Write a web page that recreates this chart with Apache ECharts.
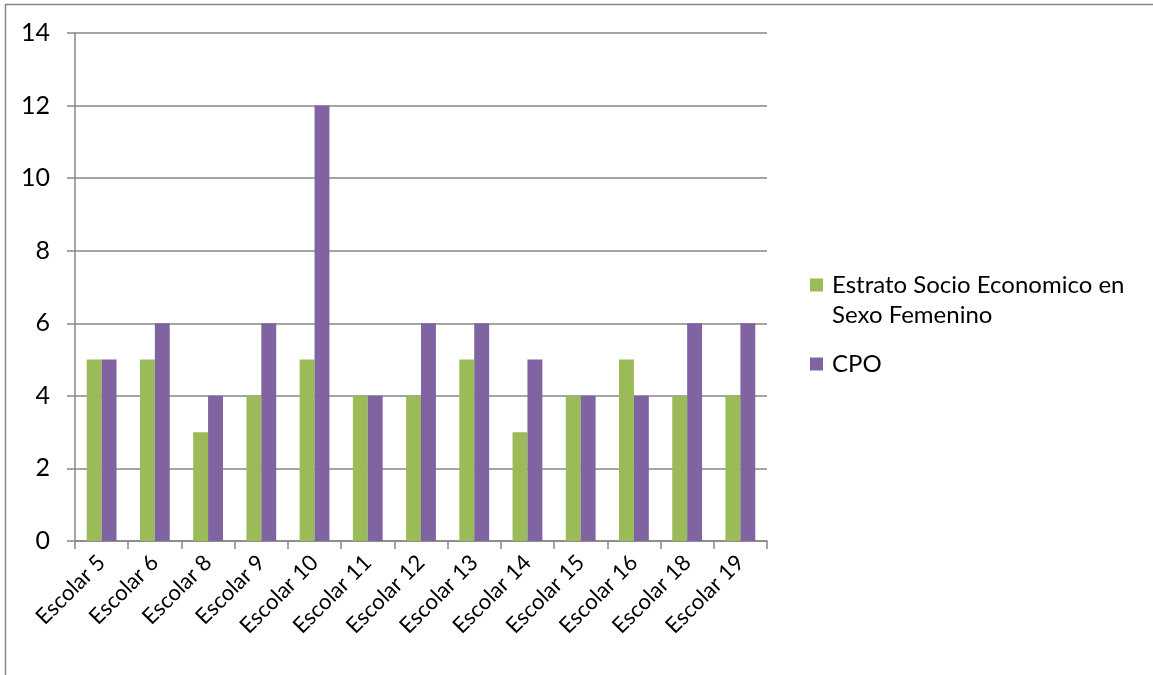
<!DOCTYPE html>
<html>
<head>
<meta charset="utf-8">
<script src="https://cdn.jsdelivr.net/npm/echarts@6/dist/echarts.min.js"></script>
<style>
  html, body { margin: 0; padding: 0; background: #fff; }
  #chart { width: 1153px; height: 675px; }
</style>
</head>
<body>
<div id="chart"></div>
<script>
// School groups on the category axis
const categories = ['Escolar 5', 'Escolar 6', 'Escolar 8', 'Escolar 9', 'Escolar 10', 'Escolar 11',
  'Escolar 12', 'Escolar 13', 'Escolar 14', 'Escolar 15', 'Escolar 16', 'Escolar 18', 'Escolar 19'];

// Series values
const estratoName = 'Estrato Socio Economico en Sexo Femenino';
const estratoValues = [5, 5, 3, 4, 5, 4, 4, 5, 3, 4, 5, 4, 4];
const cpoName = 'CPO';
const cpoValues = [5, 6, 4, 6, 12, 4, 6, 6, 5, 4, 4, 6, 6];

// Value axis range
const yMin = 0, yMax = 14, yStep = 2;

const FONT = 'Lato, "Open Sans", sans-serif';
const GRAY = '#878787';
const LH = 30;

const chart = echarts.init(document.getElementById('chart'), null, { renderer: 'canvas' });

chart.setOption({
  backgroundColor: '#ffffff',
  animation: false,
  textStyle: { fontFamily: FONT },
  grid: { left: 75, top: 33, right: 386, bottom: 134, containLabel: false },
  legend: [
    {
      data: [estratoName],
      orient: 'vertical',
      left: 810,
      top: 240,
      padding: 0,
      icon: 'rect',
      itemWidth: 13,
      itemHeight: 13,
      // leading blank line keeps the first text line level with the swatch
      formatter: () => '\nEstrato Socio Economico en\nSexo Femenino',
      textStyle: { fontFamily: FONT, fontSize: 24, color: '#000', lineHeight: LH, padding: [0, 0, 0, 4] }
    },
    {
      data: [cpoName],
      orient: 'vertical',
      left: 810,
      top: 349,
      padding: 0,
      icon: 'rect',
      itemWidth: 13,
      itemHeight: 13,
      textStyle: { fontFamily: FONT, fontSize: 24, color: '#000', lineHeight: LH, padding: [0, 0, 0, 4] }
    }
  ],
  xAxis: {
    type: 'category',
    data: categories,
    boundaryGap: true,
    axisLine: { lineStyle: { color: GRAY, width: 1.5 } },
    axisTick: { show: true, alignWithLabel: false, length: 8, inside: false, lineStyle: { color: GRAY, width: 1.5 } },
    axisLabel: { rotate: 45, margin: 18, color: '#000', fontSize: 22, fontFamily: FONT, interval: 0 },
    splitLine: { show: false }
  },
  yAxis: {
    type: 'value',
    min: yMin,
    max: yMax,
    interval: yStep,
    axisLine: { show: true, lineStyle: { color: GRAY, width: 1.5 } },
    axisTick: { show: true, length: 8, lineStyle: { color: GRAY, width: 1.5 } },
    axisLabel: { margin: 25, color: '#000', fontSize: 25, fontFamily: FONT },
    splitLine: { show: true, lineStyle: { color: GRAY, width: 1.5 } }
  },
  series: [
    {
      name: estratoName,
      type: 'bar',
      data: estratoValues,
      barGap: '0%',
      barCategoryGap: '44%',
      itemStyle: { color: '#9BBB59' }
    },
    {
      name: cpoName,
      type: 'bar',
      data: cpoValues,
      barGap: '0%',
      barCategoryGap: '44%',
      itemStyle: { color: '#8064A2' }
    }
  ],
  graphic: [
    // chart area frame: top and left edges
    { type: 'line', shape: { x1: 5, y1: 4.5, x2: 1153, y2: 4.5 }, style: { stroke: GRAY, lineWidth: 1.5 }, silent: true },
    { type: 'line', shape: { x1: 5.5, y1: 4, x2: 5.5, y2: 675 }, style: { stroke: GRAY, lineWidth: 1.5 }, silent: true }
  ]
});
</script>
</body>
</html>
